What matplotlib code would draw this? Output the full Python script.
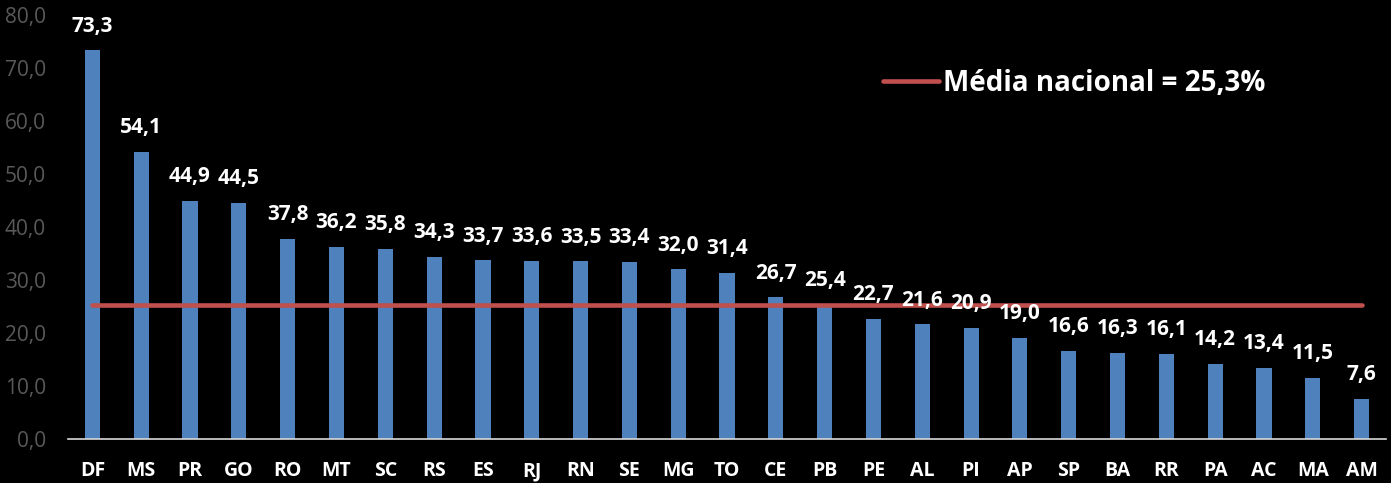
import matplotlib.pyplot as plt

estados = ['DF', 'MS', 'PR', 'GO', 'RO', 'MT', 'SC', 'RS', 'ES', 'RJ', 'RN', 'SE', 'MG', 'TO',
           'CE', 'PB', 'PE', 'AL', 'PI', 'AP', 'SP', 'BA', 'RR', 'PA', 'AC', 'MA', 'AM']
valores = [73.3, 54.1, 44.9, 44.5, 37.8, 36.2, 35.8, 34.3, 33.7, 33.6, 33.5, 33.4, 32.0, 31.4,
           26.7, 25.4, 22.7, 21.6, 20.9, 19.0, 16.6, 16.3, 16.1, 14.2, 13.4, 11.5, 7.6]
media_nacional = 25.3

plt.rcParams['font.family'] = ['Open Sans', 'DejaVu Sans']

fig = plt.figure(figsize=(13.91, 4.83), dpi=100, facecolor='black')
ax = fig.add_axes([0.0489, 0.0911, 0.9475, 0.878])
ax.set_facecolor('black')

x = list(range(len(estados)))
ax.bar(x, valores, width=0.31, color='#4F81BD', zorder=2)
linha, = ax.plot([x[0], x[-1]], [media_nacional] * 2, color='#C0504D', lw=3.3,
                 solid_capstyle='round', zorder=3)

for xi, v in zip(x, valores):
    ax.text(xi, v + 2.6, f'{v:.1f}'.replace('.', ','), ha='center', va='bottom',
            color='white', fontsize=15, fontweight='bold')

ax.set_xlim(-0.5, len(estados) - 0.5)
ax.set_ylim(0, 80)
ax.set_yticks(range(0, 81, 10))
ax.set_yticklabels([f'{t},0' for t in range(0, 81, 10)], color='#595959', fontsize=15)
ax.set_xticks(x)
ax.set_xticklabels(estados, color='white', fontsize=14, fontweight='bold')
ax.tick_params(axis='both', length=0)
ax.tick_params(axis='x', pad=16)
ax.tick_params(axis='y', pad=16)

for s in ['top', 'right', 'left']:
    ax.spines[s].set_visible(False)
ax.spines['bottom'].set_color('#D9D9D9')
ax.spines['bottom'].set_linewidth(1.2)

leg = ax.legend([linha], ['Média nacional = 25,3%'], loc='center left',
                bbox_to_anchor=(0.635, 0.828), bbox_transform=fig.transFigure,
                frameon=False, handlelength=2.0, handletextpad=0.15,
                borderaxespad=0, borderpad=0,
                prop={'size': 20, 'weight': 'bold'})
for t in leg.get_texts():
    t.set_color('white')

fig.savefig('out.png', dpi=100, facecolor='black')
